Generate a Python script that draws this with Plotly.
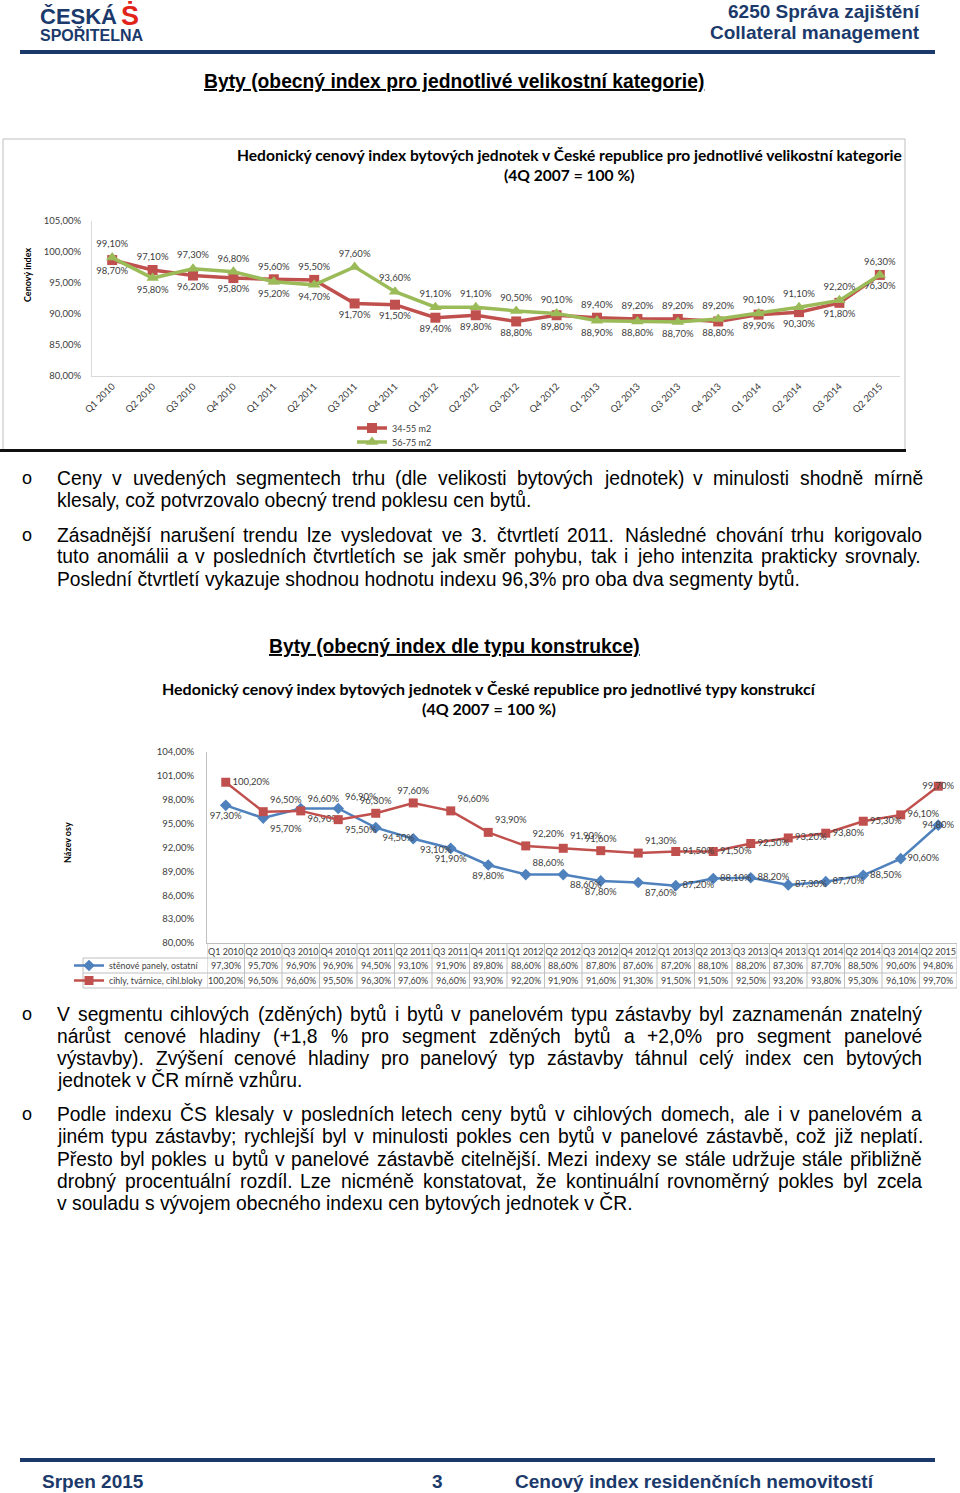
import unicodedata
import plotly.graph_objects as go

W, H = 960, 1493
def X(px): return px / W
def Y(py): return 1 - py / H

# ---------------- data ----------------
quarters = ["Q1 2010", "Q2 2010", "Q3 2010", "Q4 2010", "Q1 2011", "Q2 2011", "Q3 2011",
            "Q4 2011", "Q1 2012", "Q2 2012", "Q3 2012", "Q4 2012", "Q1 2013", "Q2 2013",
            "Q3 2013", "Q4 2013", "Q1 2014", "Q2 2014", "Q3 2014", "Q2 2015"]

size_34_55 = [98.7, 97.1, 96.2, 95.8, 95.6, 95.5, 91.7, 91.5, 89.4, 89.8, 88.8, 89.8,
              89.4, 89.2, 89.2, 88.8, 89.9, 90.3, 91.8, 96.3]
size_56_75 = [99.1, 95.8, 97.3, 96.8, 95.2, 94.7, 97.6, 93.6, 91.1, 91.1, 90.5, 90.1,
              88.9, 88.8, 88.7, 89.2, 90.1, 91.1, 92.2, 96.3]

panel = [97.3, 95.7, 96.9, 96.9, 94.5, 93.1, 91.9, 89.8, 88.6, 88.6, 87.8, 87.6,
         87.2, 88.1, 88.2, 87.3, 87.7, 88.5, 90.6, 94.8]
brick = [100.2, 96.5, 96.6, 95.5, 96.3, 97.6, 96.6, 93.9, 92.2, 91.9, 91.6, 91.3,
         91.5, 91.5, 92.5, 93.2, 93.8, 95.3, 96.1, 99.7]

name_small = "34-55 m2"
name_large = "56-75 m2"
name_panel = "stěnové panely, ostatní"
name_brick = "cihly, tvárnice, cihl.bloky"

# ---------------- styles ----------------
RED = "#C0504D"
GREEN = "#9BBB59"
BLUE = "#4F81BD"
NAVY = "#1B3A6B"
CF = "Lato, Open Sans, sans-serif"
DOC = "Liberation Sans, Arial, sans-serif"
LBL = "#404040"

def pct(v):
    return ("%.2f" % v).replace(".", ",") + "%"

fig = go.Figure()

# chart 1 label positions: higher value above, lower below
pos_small = ["top center" if a > b else "bottom center" for a, b in zip(size_34_55, size_56_75)]
pos_large = ["top center" if b >= a else "bottom center" for a, b in zip(size_34_55, size_56_75)]

fig.add_trace(go.Scatter(
    x=quarters, y=size_34_55, name=name_small, mode="lines+markers+text",
    line=dict(color=RED, width=3.5), marker=dict(symbol="square", size=10, color=RED),
    texttemplate="%{y:.2f}%", textposition=pos_small,
    textfont=dict(family=CF, size=9.5, color=LBL), xaxis="x", yaxis="y",
    legend="legend", cliponaxis=False))
fig.add_trace(go.Scatter(
    x=quarters, y=size_56_75, name=name_large, mode="lines+markers+text",
    line=dict(color=GREEN, width=3.5), marker=dict(symbol="triangle-up", size=11, color=GREEN),
    texttemplate="%{y:.2f}%", textposition=pos_large,
    textfont=dict(family=CF, size=9.5, color=LBL), xaxis="x", yaxis="y",
    legend="legend2", cliponaxis=False))

brick_pos = ["middle right", "top right", "top right", "bottom right", "top center", "top center",
             "top right", "top right", "top right", "top right", "top center", "top right",
             "middle right", "middle right", "middle right", "middle right", "middle right",
             "middle right", "middle right", "middle center"]
panel_pos = ["bottom center", "bottom right", "bottom right", "top right", "bottom right",
             "bottom right", "bottom center", "bottom center", "top right", "bottom right",
             "bottom center", "bottom right", "middle right", "middle right", "middle right",
             "middle right", "middle right", "middle right", "middle right", "middle center"]

fig.add_trace(go.Scatter(
    x=quarters, y=panel, name=name_panel, mode="lines+markers+text",
    line=dict(color=BLUE, width=2.5), marker=dict(symbol="diamond", size=9, color=BLUE),
    texttemplate="%{y:.2f}%", textposition=panel_pos,
    textfont=dict(family=CF, size=9.5, color=LBL), xaxis="x2", yaxis="y2",
    legend="legend3", cliponaxis=False))
fig.add_trace(go.Scatter(
    x=quarters, y=brick, name=name_brick, mode="lines+markers+text",
    line=dict(color=RED, width=2.5), marker=dict(symbol="square", size=9, color=RED),
    texttemplate="%{y:.2f}%", textposition=brick_pos,
    textfont=dict(family=CF, size=9.5, color=LBL), xaxis="x2", yaxis="y2",
    legend="legend4", cliponaxis=False))

shapes = []
ann = []

def text(x, y, s, size=19, family=DOC, color="black", xanchor="left", bold=False, **kw):
    if bold:
        s = "<b>" + s + "</b>"
    ann.append(dict(x=X(x), y=Y(y), xref="paper", yref="paper", text=s, showarrow=False,
                    xanchor=xanchor, yanchor="middle",
                    font=dict(size=size, family=family, color=color), **kw))

def hline(x0, x1, y, color, width):
    shapes.append(dict(type="line", xref="paper", yref="paper", x0=X(x0), x1=X(x1),
                       y0=Y(y), y1=Y(y), line=dict(color=color, width=width)))

# ---------------- header / footer ----------------
text(38, 17, "ČESKÁ", size=22, color=NAVY, bold=True)
text(38, 35, "SPOŘITELNA", size=16, color=NAVY, bold=True)
text(130, 16, "Ṡ", size=27, color="#E2231A", xanchor="center", bold=True)
text(922, 11, "6250 Správa zajištění", size=19, color=NAVY, xanchor="right", bold=True)
text(922, 33, "Collateral management", size=19, color=NAVY, xanchor="right", bold=True)
hline(20, 935, 52, NAVY, 4)
hline(20, 935, 1460, NAVY, 4)
text(40, 1481, "Srpen 2015", size=19, color=NAVY, bold=True)
text(437, 1481, "3", size=19, color=NAVY, xanchor="center", bold=True)
text(513, 1481, "Cenový index residenčních nemovitostí", size=19, color=NAVY, bold=True)

# ---------------- section titles ----------------
text(454, 82, "<u>Byty (obecný index pro jednotlivé velikostní kategorie)</u>", size=19.3,
     xanchor="center", bold=True)
text(454, 647, "<u>Byty (obecný index dle typu konstrukce)</u>", size=19.3,
     xanchor="center", bold=True)

# ---------------- chart 1 frame and titles ----------------
shapes.append(dict(type="rect", xref="paper", yref="paper", x0=X(3), x1=X(905), y0=Y(450),
                   y1=Y(139), line=dict(color="#BFBFBF", width=1)))
hline(0, 906, 450.5, "#111111", 3)
text(569, 155, "Hedonický cenový index bytových jednotek v České republice pro jednotlivé velikostní kategorie",
     size=15.6, family=CF, xanchor="center", bold=True)
text(569, 175, "(4Q 2007 = 100 %)", size=15.6, family=CF, xanchor="center", bold=True)
text(27, 275, "Cenový index", size=9, family=CF, xanchor="center", bold=True, textangle=-90)

# ---------------- chart 2 titles and table ----------------
text(489, 688, "Hedonický cenový index bytových jednotek v České republice pro jednotlivé typy konstrukcí",
     size=16, family=CF, xanchor="center", bold=True)
text(489, 709, "(4Q 2007 = 100 %)", size=16, family=CF, xanchor="center", bold=True)
text(67, 843, "Název osy", size=9, family=CF, xanchor="center", bold=True, textangle=-90)

GRID = "#BFBFBF"
hline(83, 957, 958, GRID, 1)
hline(83, 957, 973, GRID, 1)
hline(83, 957, 988, GRID, 1)
shapes.append(dict(type="line", xref="paper", yref="paper", x0=X(83), x1=X(83), y0=Y(958), y1=Y(988),
                   line=dict(color=GRID, width=1)))
for i in range(len(quarters) + 1):
    shapes.append(dict(type="line", xref="x2", yref="paper", x0=i - 0.5, x1=i - 0.5,
                       y0=Y(943), y1=Y(988), line=dict(color=GRID, width=1)))
for i, q in enumerate(quarters):
    for row_y, vals in ((965.5, panel), (980.5, brick)):
        ann.append(dict(x=i, y=Y(row_y), xref="x2", yref="paper", text=pct(vals[i]),
                        showarrow=False, xanchor="center", yanchor="middle",
                        font=dict(size=9, family=CF, color=LBL)))

# ---------------- body text (justified) ----------------
AW = dict(a=556, b=556, c=500, d=556, e=556, f=278, g=556, h=556, i=222, j=222, k=500, l=222,
          m=833, n=556, o=556, p=556, q=556, r=333, s=500, t=278, u=556, v=500, w=722, x=500,
          y=500, z=500, A=667, B=667, C=722, D=722, E=667, F=611, G=778, H=722, I=278, J=500,
          K=667, L=556, M=833, N=722, O=778, P=667, Q=778, R=722, S=667, T=611, U=722, V=667,
          W=944, X=667, Y=667, Z=611)
AW.update({d: 556 for d in "0123456789"})
AW.update({" ": 278, ",": 278, ".": 278, "(": 333, ")": 333, "%": 889, "+": 584, ";": 278,
           "-": 333, ":": 278})

def tw(s, size):
    tot = 0
    for ch in s:
        base = unicodedata.normalize("NFD", ch)[0]
        tot += AW.get(base, 556)
    return tot * size / 1000.0

BODY = 19.3
LEFT, RIGHT = 55, 920
para = [
    (478, "Ceny v uvedených segmentech trhu (dle velikosti bytových jednotek) v minulosti shodně mírně", True, True),
    (500, "klesaly, což potvrzovalo obecný trend poklesu cen bytů.", False, False),
    (535, "Zásadnější narušení trendu lze vysledovat ve 3. čtvrtletí 2011. Následné chování trhu korigovalo", True, True),
    (557, "tuto anomálii a v posledních čtvrtletích se jak směr pohybu, tak i jeho intenzita prakticky srovnaly.", False, True),
    (579, "Poslední čtvrtletí vykazuje shodnou hodnotu indexu 96,3% pro oba dva segmenty bytů.", False, False),
    (1014, "V segmentu cihlových (zděných) bytů i bytů v panelovém typu zástavby byl zaznamenán znatelný", True, True),
    (1036, "nárůst cenové hladiny (+1,8 % pro segment zděných bytů a +2,0% pro segment panelové", False, True),
    (1058, "výstavby). Zvýšení cenové hladiny pro panelový typ zástavby táhnul celý index cen bytových", False, True),
    (1080, "jednotek v ČR mírně vzhůru.", False, False),
    (1114, "Podle indexu ČS klesaly v posledních letech ceny bytů v cihlových domech, ale i v panelovém a", True, True),
    (1136, "jiném typu zástavby; rychlejší byl v minulosti pokles cen bytů v panelové zástavbě, což již neplatí.", False, True),
    (1159, "Přesto byl pokles u bytů v panelové zástavbě citelnější. Mezi indexy se stále udržuje stále přibližně", False, True),
    (1181, "drobný procentuální rozdíl. Lze nicméně konstatovat, že kontinuální rovnoměrný pokles byl zcela", False, True),
    (1203, "v souladu s vývojem obecného indexu cen bytových jednotek v ČR.", False, False),
]
for y, s, bullet, justify in para:
    if bullet:
        text(27, y, "o", size=18, xanchor="center")
    if not justify:
        text(LEFT, y, s, size=BODY)
        continue
    words = s.split(" ")
    widths = [tw(w, BODY) for w in words]
    gap = (RIGHT - LEFT - sum(widths)) / (len(words) - 1)
    xpos = LEFT
    for w, wd in zip(words, widths):
        text(xpos, y, w, size=BODY)
        xpos += wd + gap

# ---------------- layout ----------------
tickfont = dict(family=CF, size=9.5, color=LBL)
leg = dict(bgcolor="rgba(0,0,0,0)", font=dict(family=CF, size=9, color=LBL), itemwidth=30,
           xanchor="left", yanchor="middle", borderwidth=0, tracegroupgap=0)

fig.update_layout(
    width=W, height=H, margin=dict(l=0, r=0, t=0, b=0, autoexpand=False),
    paper_bgcolor="white", plot_bgcolor="white",
    separators=", ",
    showlegend=True,
    shapes=shapes, annotations=ann,
    xaxis=dict(domain=[X(92), X(900)], range=[-0.5, len(quarters) - 0.5], type="category",
               tickangle=-45, tickfont=tickfont, showgrid=False, showline=True,
               linecolor="#D9D9D9", ticks="", anchor="y", zeroline=False, automargin=False),
    yaxis=dict(domain=[Y(376), Y(221)], range=[80, 105], dtick=5, tickformat=".2f",
               ticksuffix="%", tickfont=tickfont, showgrid=False, showline=True,
               linecolor="#D9D9D9", ticks="", anchor="x", ticklabelstandoff=8, zeroline=False,
               automargin=False),
    xaxis2=dict(domain=[X(207), X(957)], range=[-0.5, len(quarters) - 0.5], type="category",
                tickangle=0, tickfont=dict(family=CF, size=9, color=LBL), showgrid=False,
                showline=True, linecolor=GRID, ticks="", anchor="y2", zeroline=False,
                automargin=False),
    yaxis2=dict(domain=[Y(943), Y(752)], range=[80, 104], dtick=3, tick0=80, tickformat=".2f",
                ticksuffix="%", tickfont=tickfont, showgrid=False, showline=True,
                linecolor=GRID, ticks="", anchor="x2", ticklabelstandoff=10, zeroline=False,
                automargin=False),
    legend=dict(leg, x=X(352), y=Y(428)),
    legend2=dict(leg, x=X(352), y=Y(442)),
    legend3=dict(leg, x=X(69), y=Y(965.5), font=dict(family=CF, size=8.8, color=LBL)),
    legend4=dict(leg, x=X(69), y=Y(980.5), font=dict(family=CF, size=8.8, color=LBL)),
)

fig.write_html("out.html", config={"displayModeBar": False},
               post_script="document.body.style.margin='0px';")
